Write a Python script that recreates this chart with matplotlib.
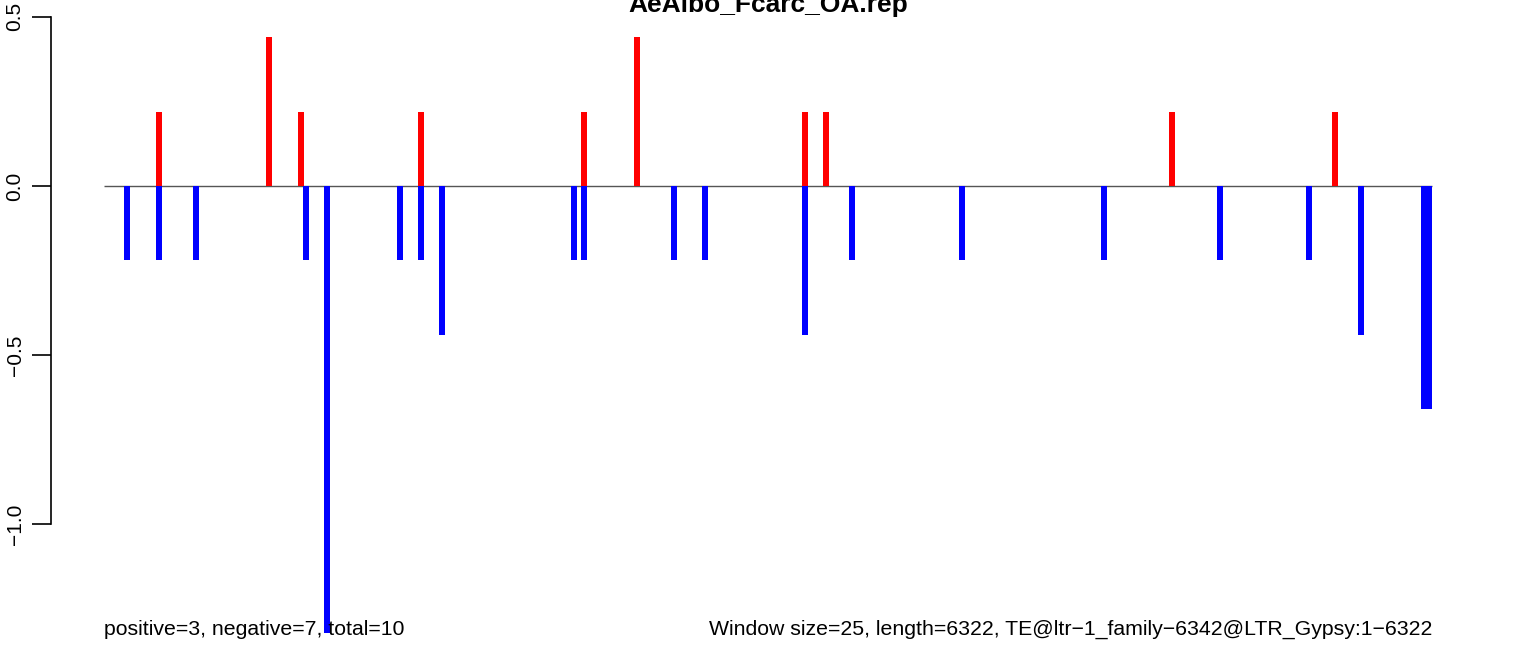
import matplotlib
matplotlib.use("Agg")
import matplotlib.pyplot as plt
import matplotlib.transforms as mtransforms

plt.rcParams['font.family'] = ['Liberation Sans', 'DejaVu Sans']

# --- data (window start positions along the TE, scores) ---
seq_length = 6322
window_size = 25

pos_x = [263, 785, 938, 1509, 2285, 2537, 3337, 3437, 5084, 5860]
pos_y = [0.22, 0.44, 0.22, 0.22, 0.22, 0.44, 0.22, 0.22, 0.22, 0.22]

neg_x = [108, 263, 439, 962, 1062, 1409, 1509, 1609, 2238, 2285, 2713,
         2861, 3337, 3561, 4085, 4760, 5313, 5737, 5984, 6284, 6309]
neg_y = [-0.22, -0.22, -0.22, -0.22, -1.32, -0.22, -0.22, -0.44, -0.22, -0.22, -0.22,
         -0.22, -0.44, -0.22, -0.22, -0.22, -0.22, -0.22, -0.44, -0.66, -0.66]

title = "AeAlbo_Fcarc_OA.rep"
left_note = "positive=3, negative=7, total=10"
right_note = "Window size=25, length=6322, TE@ltr\u22121_family\u22126342@LTR_Gypsy:1\u22126322"
yticks = [-1.0, -0.5, 0.0, 0.5]

W, H = 1536, 646
fig = plt.figure(figsize=(W / 100, H / 100), dpi=100)
ax = fig.add_axes([51 / W, 0, (1485 - 51) / W, (646 - 13) / H])

bar_w = 28.6
ax.hlines(0, 0, seq_length, color='#555555', lw=1.0, zorder=1)
ax.bar(neg_x, neg_y, width=bar_w, color='#0000FF', linewidth=0, zorder=2)
ax.bar(pos_x, pos_y, width=bar_w, color='#FF0000', linewidth=0, zorder=2)

ext = 0.04 * seq_length
ax.set_xlim(-ext, seq_length + ext)
ax.set_ylim(-1.359, 0.511)

# R-like axis: only left axis, limited to tick range
for s in ['top', 'right', 'bottom']:
    ax.spines[s].set_visible(False)
ax.spines['left'].set_bounds(-1.0, 0.5)
ax.spines['left'].set_linewidth(1.2)
ax.set_xticks([])
ax.set_yticks(yticks)
ax.set_yticklabels([f"{t:.1f}".replace('-', '\u2212') for t in yticks],
                   rotation=90, va='center', fontsize=15)
ax.tick_params(axis='y', length=14, width=1.2, pad=5)
ax.patch.set_visible(False)

trans = mtransforms.blended_transform_factory(ax.transData, fig.transFigure)
ax.text(0, 1 - 635 / H, left_note, transform=trans, ha='left', va='baseline',
        fontsize=15.3, zorder=3)
ax.text(seq_length, 1 - 635 / H, right_note, transform=trans, ha='right', va='baseline',
        fontsize=15.3, zorder=3)

# title is clipped by the top edge, as in the original
fig.text(768 / W, 1 - 11.7 / H, title, ha='center', va='baseline',
         fontsize=19, fontweight='bold')

fig.savefig("out.png", dpi=100)
